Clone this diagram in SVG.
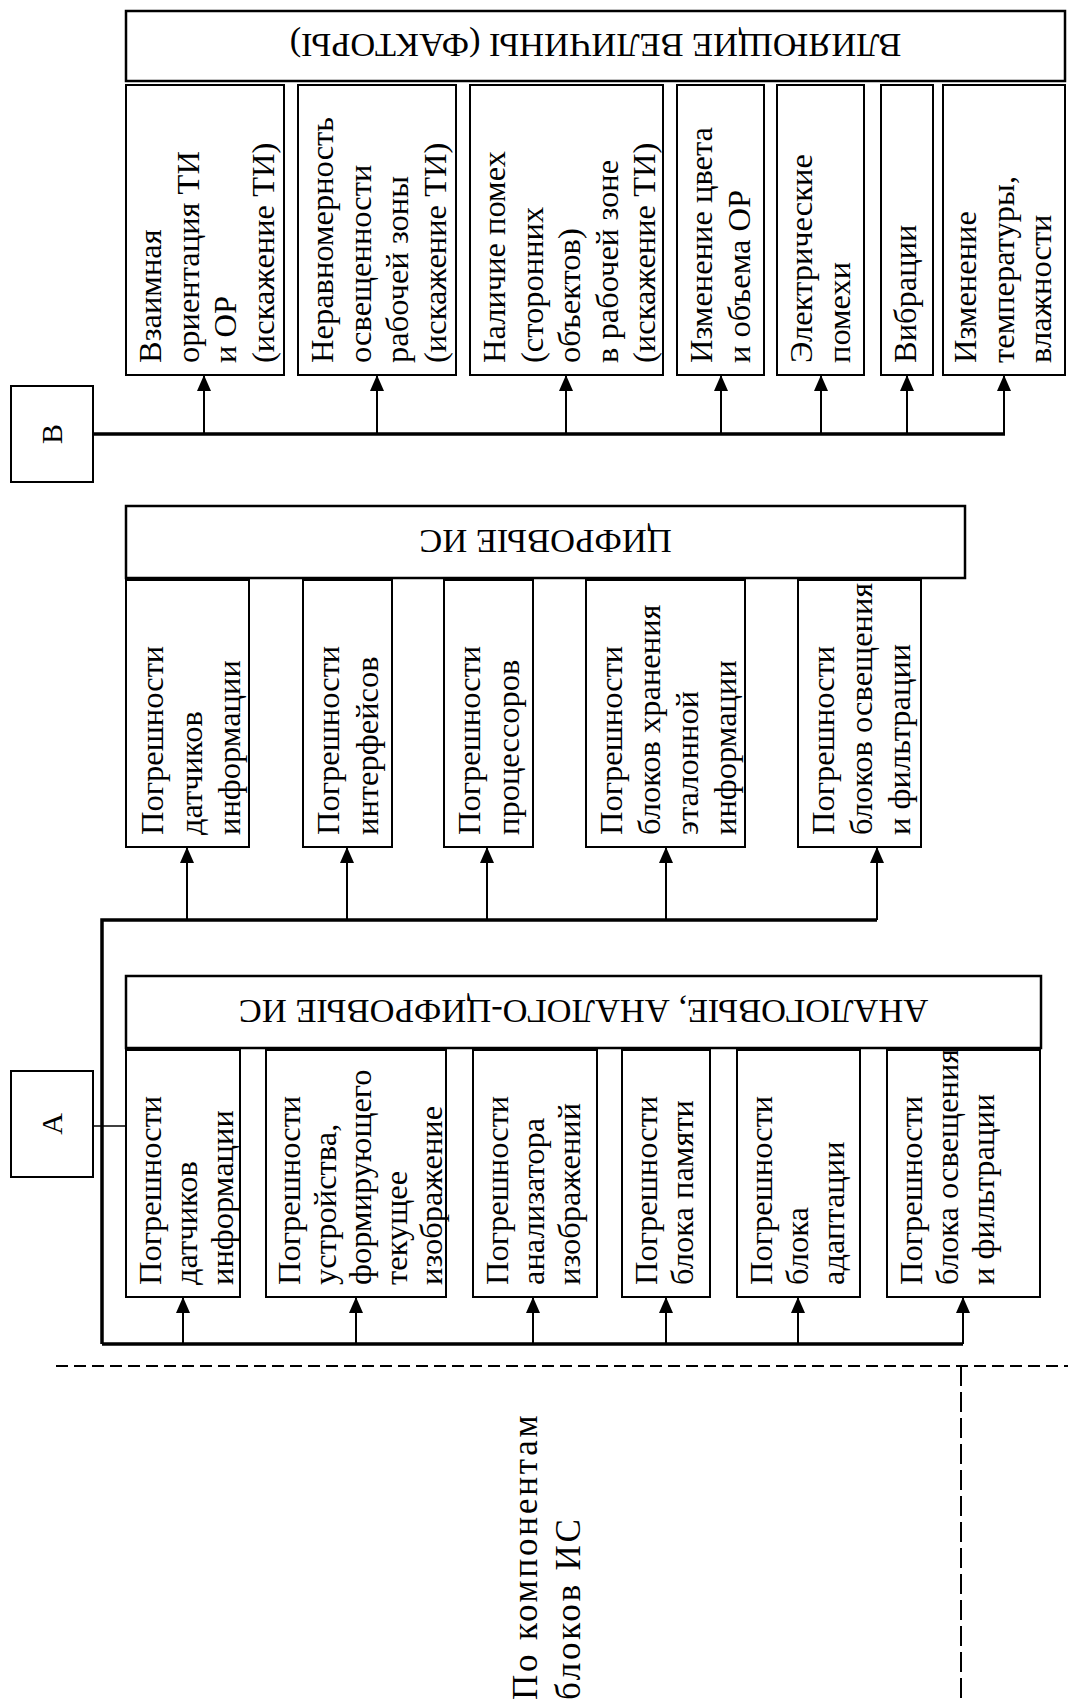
<svg xmlns="http://www.w3.org/2000/svg" width="1068" height="1704" viewBox="0 0 1068 1704">
<style>
.box{fill:#fff;stroke:#000;stroke-width:2}
.hdr{fill:#fff;stroke:#000;stroke-width:2.5}
.t{font-family:"Liberation Serif","Times New Roman",serif;font-size:32.5px;fill:#000}
.h{font-family:"Liberation Serif","Times New Roman",serif;font-size:34.5px;fill:#000;text-anchor:middle}
.lbl{font-family:"Liberation Serif","Times New Roman",serif;font-size:30px;fill:#000;text-anchor:middle}
.bus{fill:none;stroke:#000;stroke-width:3.5}
.arr{fill:none;stroke:#000;stroke-width:2;marker-end:url(#ah)}
.thin{fill:none;stroke:#000;stroke-width:1.5}
.dh{fill:none;stroke:#000;stroke-width:2;stroke-dasharray:12 6}
.dv{fill:none;stroke:#000;stroke-width:2;stroke-dasharray:20 6}
</style>
<defs>
<marker id="ah" markerUnits="userSpaceOnUse" viewBox="0 0 16 14" markerWidth="16" markerHeight="14" refX="16" refY="7" orient="auto">
<path d="M0,0 L16,7 L0,14 Z" fill="#000"/>
</marker>
</defs>
<rect width="1068" height="1704" fill="#fff"/>

<!-- TOP SECTION -->
<g id="hdr-factors">
<rect class="hdr" x="126" y="11" width="939" height="70"/>
<text class="h" transform="translate(595.5,34) rotate(180)">ВЛИЯЮЩИЕ ВЕЛИЧИНЫ (ФАКТОРЫ)</text>
</g>
<g id="f1"><rect class="box" x="126" y="85" width="158" height="290"/>
<text class="t" transform="translate(161,363) rotate(-90)"><tspan x="0" y="0">Взаимная</tspan><tspan x="0" dy="37.5">ориентация ТИ</tspan><tspan x="0" dy="37.5">и ОР</tspan><tspan x="0" dy="37.5">(искажение ТИ)</tspan></text></g>
<g id="f2"><rect class="box" x="298" y="85" width="158" height="290"/>
<text class="t" transform="translate(333,363) rotate(-90)"><tspan x="0" y="0">Неравномерность</tspan><tspan x="0" dy="37.5">освещенности</tspan><tspan x="0" dy="37.5">рабочей зоны</tspan><tspan x="0" dy="37.5">(искажение ТИ)</tspan></text></g>
<g id="f3"><rect class="box" x="470" y="85" width="193" height="290"/>
<text class="t" transform="translate(505,363) rotate(-90)"><tspan x="0" y="0">Наличие помех</tspan><tspan x="0" dy="37.5">(сторонних</tspan><tspan x="0" dy="37.5">объектов)</tspan><tspan x="0" dy="37.5">в рабочей зоне</tspan><tspan x="0" dy="37.5">(искажение ТИ)</tspan></text></g>
<g id="f4"><rect class="box" x="677" y="85" width="87" height="290"/>
<text class="t" transform="translate(712,363) rotate(-90)"><tspan x="0" y="0">Изменение цвета</tspan><tspan x="0" dy="37.5">и объема ОР</tspan></text></g>
<g id="f5"><rect class="box" x="777" y="85" width="87" height="290"/>
<text class="t" transform="translate(812,363) rotate(-90)"><tspan x="0" y="0">Электрические</tspan><tspan x="0" dy="37.5">помехи</tspan></text></g>
<g id="f6"><rect class="box" x="881" y="85" width="52" height="290"/>
<text class="t" transform="translate(916,363) rotate(-90)">Вибрации</text></g>
<g id="f7"><rect class="box" x="943" y="85" width="122" height="290"/>
<text class="t" transform="translate(976,363) rotate(-90)"><tspan x="0" y="0">Изменение</tspan><tspan x="0" dy="37.5">температуры,</tspan><tspan x="0" dy="37.5">влажности</tspan></text></g>
<g id="B"><rect class="box" x="11" y="386" width="82" height="96"/>
<text class="lbl" transform="translate(62,434) rotate(-90)">В</text></g>

<!-- MIDDLE SECTION -->
<g id="hdr-digital">
<rect class="hdr" x="126" y="506" width="839" height="72"/>
<text class="h" transform="translate(545.5,530) rotate(180)">ЦИФРОВЫЕ ИС</text>
</g>
<g id="d1"><rect class="box" x="126" y="580" width="123" height="267"/>
<text class="t" transform="translate(163,835) rotate(-90)"><tspan x="0" y="0">Погрешности</tspan><tspan x="0" dy="38.5">датчиков</tspan><tspan x="0" dy="38.5">информации</tspan></text></g>
<g id="d2"><rect class="box" x="303" y="580" width="89" height="267"/>
<text class="t" transform="translate(339,835) rotate(-90)"><tspan x="0" y="0">Погрешности</tspan><tspan x="0" dy="38.5">интерфейсов</tspan></text></g>
<g id="d3"><rect class="box" x="444" y="580" width="89" height="267"/>
<text class="t" transform="translate(480,835) rotate(-90)"><tspan x="0" y="0">Погрешности</tspan><tspan x="0" dy="38.5">процессоров</tspan></text></g>
<g id="d4"><rect class="box" x="586" y="580" width="159" height="267"/>
<text class="t" transform="translate(622,835) rotate(-90)"><tspan x="0" y="0">Погрешности</tspan><tspan x="0" dy="38">блоков хранения</tspan><tspan x="0" dy="38">эталонной</tspan><tspan x="0" dy="38">информации</tspan></text></g>
<g id="d5"><rect class="box" x="798" y="580" width="123" height="267"/>
<text class="t" transform="translate(834,835) rotate(-90)"><tspan x="0" y="0">Погрешности</tspan><tspan x="0" dy="38">блоков освещения</tspan><tspan x="0" dy="38">и фильтрации</tspan></text></g>

<!-- BOTTOM SECTION -->
<g id="hdr-analog">
<rect class="hdr" x="126" y="976" width="915" height="72"/>
<text class="h" transform="translate(583.5,1000) rotate(180)">АНАЛОГОВЫЕ, АНАЛОГО-ЦИФРОВЫЕ ИС</text>
</g>
<g id="a1"><rect class="box" x="126" y="1050" width="114" height="247"/>
<text class="t" transform="translate(161,1285) rotate(-90)"><tspan x="0" y="0">Погрешности</tspan><tspan x="0" dy="36">датчиков</tspan><tspan x="0" dy="36">информации</tspan></text></g>
<g id="a2"><rect class="box" x="266" y="1050" width="180" height="247"/>
<text class="t" transform="translate(300,1285) rotate(-90)"><tspan x="0" y="0">Погрешности</tspan><tspan x="0" dy="35.5">устройства,</tspan><tspan x="0" dy="35.5">формирующего</tspan><tspan x="0" dy="35.5">текущее</tspan><tspan x="0" dy="35.5">изображение</tspan></text></g>
<g id="a3"><rect class="box" x="473" y="1050" width="124" height="247"/>
<text class="t" transform="translate(508,1285) rotate(-90)"><tspan x="0" y="0">Погрешности</tspan><tspan x="0" dy="36">анализатора</tspan><tspan x="0" dy="36">изображений</tspan></text></g>
<g id="a4"><rect class="box" x="622" y="1050" width="88" height="247"/>
<text class="t" transform="translate(657,1285) rotate(-90)"><tspan x="0" y="0">Погрешности</tspan><tspan x="0" dy="36">блока памяти</tspan></text></g>
<g id="a5"><rect class="box" x="737" y="1050" width="123" height="247"/>
<text class="t" transform="translate(772,1285) rotate(-90)"><tspan x="0" y="0">Погрешности</tspan><tspan x="0" dy="36">блока</tspan><tspan x="0" dy="36">адаптации</tspan></text></g>
<g id="a6"><rect class="box" x="887" y="1050" width="153" height="247"/>
<text class="t" transform="translate(922,1285) rotate(-90)"><tspan x="0" y="0">Погрешности</tspan><tspan x="0" dy="36">блока освещения</tspan><tspan x="0" dy="36">и фильтрации</tspan></text></g>
<g id="A"><rect class="box" x="11" y="1071" width="82" height="106"/>
<text class="lbl" transform="translate(62,1124) rotate(-90)">А</text></g>

<g id="connectors">
<path class="bus" d="M93,434 H1005"/>
<path class="arr" d="M204,434 V375"/>
<path class="arr" d="M377,434 V375"/>
<path class="arr" d="M566,434 V375"/>
<path class="arr" d="M721,434 V375"/>
<path class="arr" d="M821,434 V375"/>
<path class="arr" d="M907,434 V375"/>
<path class="arr" d="M1004,434 V375"/>

<path class="bus" d="M102,1344 V920 H877"/>
<path class="arr" d="M187,920 V847"/>
<path class="arr" d="M347,920 V847"/>
<path class="arr" d="M487,920 V847"/>
<path class="arr" d="M666,920 V847"/>
<path class="arr" d="M877,920 V847"/>

<path class="thin" d="M93,1126 H126"/>
<path class="bus" d="M102,1344 H963"/>
<path class="arr" d="M183,1344 V1297"/>
<path class="arr" d="M356,1344 V1297"/>
<path class="arr" d="M533,1344 V1297"/>
<path class="arr" d="M666,1344 V1297"/>
<path class="arr" d="M798,1344 V1297"/>
<path class="arr" d="M963,1344 V1297"/>
</g>

<g id="dividers">
<path class="dh" d="M56,1366 H1068"/>
<path class="dv" d="M961,1366 V1704"/>
</g>
<g id="caption">
<text class="t" style="font-size:35px;letter-spacing:2.8px" transform="translate(537,1700) rotate(-90)"><tspan x="0" y="0">По компонентам</tspan><tspan x="0" dy="43">блоков ИС</tspan></text>
</g>
</svg>
